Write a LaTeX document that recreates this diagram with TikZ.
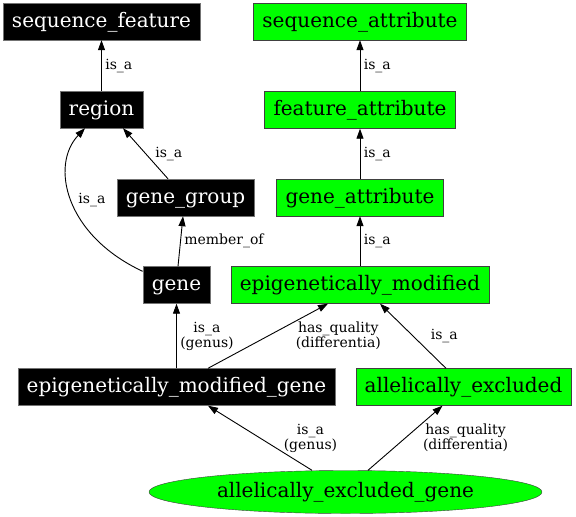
\documentclass[tikz,border=0pt]{standalone}
\usepackage{fontspec}
\setmainfont{DejaVu Serif}
\usetikzlibrary{arrows.meta}
\usetikzlibrary{shapes.geometric}
\tikzset{blackterm/.style = {draw=black!55, fill=black, text=white,
                             font=\fontsize{20}{22}\selectfont,
                             text height=15pt, text depth=4pt,
                             minimum height=37pt, inner xsep=9pt},
         greenterm/.style = {draw=black!75, fill=green, text=black,
                             font=\fontsize{20}{22}\selectfont,
                             text height=15pt, text depth=4pt,
                             minimum height=37pt, inner xsep=9pt},
         rel/.style = {-{Triangle[length=10pt,width=7pt]}, line width=0.9pt},
         lbl/.style = {font=\fontsize{14}{15}\selectfont, align=center}}

\begin{document}
\begin{tikzpicture}[x=1pt, y=-1pt]
    \useasboundingbox (0,0) rectangle (576,517);

    \node[blackterm] (seqfeat) at (101.5,21.5) {sequence\_feature};
    \node[blackterm] (region) at (101.5,109.5) {region};
    \node[blackterm] (genegroup) at (185.5,197.5) {gene\_group};
    \node[blackterm] (gene) at (176.5,285) {gene};
    \node[blackterm] (epimodgene) at (176.5,387) {epigenetically\_modified\_gene};

    \node[greenterm] (seqattr) at (360,21.5) {sequence\_attribute};
    \node[greenterm] (featattr) at (360,110) {feature\_attribute};
    \node[greenterm] (geneattr) at (360,197.5) {gene\_attribute};
    \node[greenterm] (epimod) at (360,285) {epigenetically\_modified};
    \node[greenterm] (allexcl) at (463.5,387) {allelically\_excluded};
    \node[greenterm, ellipse, minimum width=393pt, minimum height=43pt, inner sep=0pt] (allexclgene) at (345.5,492) {allelically\_excluded\_gene};

    \draw[rel] (region) -- (seqfeat) node[lbl, midway, right] {is\_a};
    \draw[rel] ([xshift=-17.5pt]genegroup.north) -- ([xshift=21.5pt]region.south) node[lbl, midway, right, xshift=6pt] {is\_a};
    \draw[rel] ([yshift=-5pt]gene.north west) .. controls (65,235) and (50,165) .. ([xshift=-16.5pt]region.south) node[lbl, pos=0.5, right, xshift=3pt] {is\_a};
    \draw[rel] ([xshift=1.5pt]gene.north) -- ([xshift=-2.5pt]genegroup.south) node[lbl, midway, right] {member\_of};
    \draw[rel] (epimodgene) -- (gene) node[lbl, midway, right] {is\_a\\(genus)};
    \draw[rel] ([xshift=31.5pt]epimodgene.north) -- ([xshift=-32pt]epimod.south) node[lbl, midway, right, xshift=24pt] {has\_quality\\(differentia)};

    \draw[rel] (featattr) -- (seqattr) node[lbl, midway, right] {is\_a};
    \draw[rel] (geneattr) -- (featattr) node[lbl, midway, right] {is\_a};
    \draw[rel] (epimod) -- (geneattr) node[lbl, midway, right] {is\_a};
    \draw[rel] ([xshift=-17.5pt]allexcl.north) -- ([xshift=20pt]epimod.south) node[lbl, midway, right, xshift=14pt] {is\_a};

    \draw[rel] ([xshift=-33.5pt]allexclgene.north) -- ([xshift=31.5pt]epimodgene.south) node[lbl, midway, right, xshift=20pt] {is\_a\\(genus)};
    \draw[rel] ([xshift=22.5pt]allexclgene.north) -- ([xshift=-21pt]allexcl.south) node[lbl, midway, right, xshift=14pt] {has\_quality\\(differentia)};
\end{tikzpicture}
\end{document}
